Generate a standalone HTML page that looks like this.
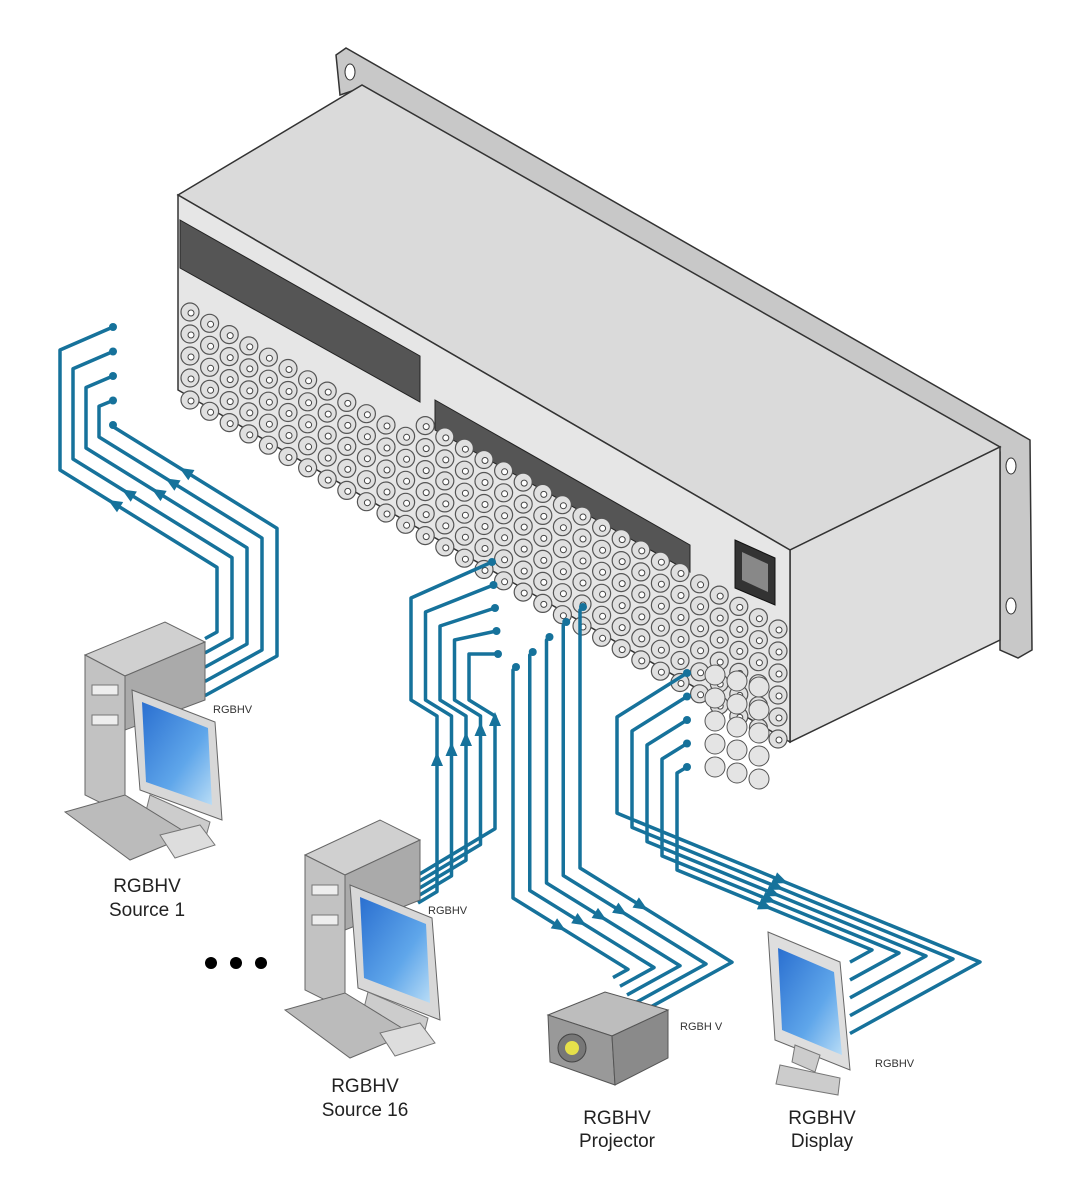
<!DOCTYPE html>
<html><head><meta charset="utf-8"><style>
html,body{margin:0;padding:0;background:#fff;}
svg{display:block;}
text{font-family:"Liberation Sans",sans-serif;}
</style></head><body>
<svg id="s" width="1083" height="1200" viewBox="0 0 1083 1200" xmlns="http://www.w3.org/2000/svg">
<defs>
<linearGradient id="scr" x1="0" y1="0" x2="1" y2="1"><stop offset="0" stop-color="#2a6fd0"/><stop offset="0.6" stop-color="#5fa6ea"/><stop offset="1" stop-color="#b8dcf6"/></linearGradient>
</defs>
<polygon points="336,55 346,48 1030,440 1032,650 1018,658 1000,650 1000,452 355,90 340,95" fill="#c8c8c8" stroke="#333" stroke-width="1.5"/>
<ellipse cx="350" cy="72" rx="5" ry="8" fill="#fff" stroke="#333"/>
<ellipse cx="1011" cy="466" rx="5" ry="8" fill="#fff" stroke="#333"/>
<ellipse cx="1011" cy="606" rx="5" ry="8" fill="#fff" stroke="#333"/>
<polygon points="178,195 362,85 1000,447 790,550" fill="#dadada" stroke="#333" stroke-width="1.5"/>
<polygon points="790,550 1000,447 1000,640 790,742" fill="#dedede" stroke="#333" stroke-width="1.5"/>
<polygon points="178,195 790,550 790,742 178,390" fill="#e6e6e6" stroke="#333" stroke-width="1.5"/>
<polygon points="180,220 420,356 420,402 180,268" fill="#555" stroke="#222"/>
<polygon points="435,400 690,545 690,572 435,430" fill="#555" stroke="#222"/>
<polygon points="735,540 775,558 775,605 735,588" fill="#333" stroke="#111"/>
<polygon points="742,552 768,564 768,592 742,580" fill="#888"/>
<g id="conn"></g>
<g id="cab" fill="none" stroke="#16729b" stroke-width="3.5" stroke-linejoin="round"></g>
<g id="arr" fill="#16729b"></g>

<polygon points="85,655 165,622 205,642 125,676" fill="#d0d0d0" stroke="#666"/>
<polygon points="85,655 125,676 125,815 85,795" fill="#c2c2c2" stroke="#666"/>
<polygon points="125,676 205,642 205,700 125,730" fill="#aaa" stroke="#666"/>
<rect x="92" y="685" width="26" height="10" fill="#eee" stroke="#777"/>
<rect x="92" y="715" width="26" height="10" fill="#eee" stroke="#777"/>
<polygon points="132,690 215,722 222,820 140,790" fill="#d8d8d8" stroke="#666"/>
<polygon points="142,702 208,728 212,805 146,782" fill="url(#scr)"/>
<polygon points="150,795 210,822 205,840 145,815" fill="#ccc" stroke="#777"/>
<polygon points="65,812 125,795 190,835 130,860" fill="#bbb" stroke="#666"/>
<polygon points="160,835 200,825 215,845 175,858" fill="#ddd" stroke="#777"/>
<text x="213" y="713" font-size="11" fill="#333">RGBHV</text>
<text x="147" y="892" font-size="19" fill="#222" text-anchor="middle">RGBHV</text>
<text x="147" y="916" font-size="19" fill="#222" text-anchor="middle">Source 1</text>

<circle cx="211" cy="963" r="6" fill="#000"/><circle cx="236" cy="963" r="6" fill="#000"/><circle cx="261" cy="963" r="6" fill="#000"/>

<polygon points="305,855 380,820 420,840 345,875" fill="#d0d0d0" stroke="#666"/>
<polygon points="305,855 345,875 345,1010 305,990" fill="#c2c2c2" stroke="#666"/>
<polygon points="345,875 420,840 420,900 345,930" fill="#aaa" stroke="#666"/>
<rect x="312" y="885" width="26" height="10" fill="#eee" stroke="#777"/>
<rect x="312" y="915" width="26" height="10" fill="#eee" stroke="#777"/>
<polygon points="350,885 432,918 440,1020 358,988" fill="#d8d8d8" stroke="#666"/>
<polygon points="360,897 426,924 430,1003 364,978" fill="url(#scr)"/>
<polygon points="368,992 428,1018 423,1038 363,1012" fill="#ccc" stroke="#777"/>
<polygon points="285,1010 345,993 410,1033 350,1058" fill="#bbb" stroke="#666"/>
<polygon points="380,1033 420,1023 435,1043 395,1056" fill="#ddd" stroke="#777"/>
<text x="428" y="914" font-size="11" fill="#333">RGBHV</text>
<text x="365" y="1092" font-size="19" fill="#222" text-anchor="middle">RGBHV</text>
<text x="365" y="1116" font-size="19" fill="#222" text-anchor="middle">Source 16</text>

<polygon points="548,1015 605,992 668,1010 612,1036" fill="#bdbdbd" stroke="#555"/>
<polygon points="548,1015 612,1036 615,1085 550,1062" fill="#999" stroke="#555"/>
<polygon points="612,1036 668,1010 668,1058 615,1085" fill="#8a8a8a" stroke="#555"/>
<circle cx="572" cy="1048" r="14" fill="#777" stroke="#444"/>
<circle cx="572" cy="1048" r="7" fill="#e6e04a"/>
<text x="680" y="1030" font-size="11" fill="#333">RGBH V</text>
<text x="617" y="1124" font-size="19" fill="#222" text-anchor="middle">RGBHV</text>
<text x="617" y="1147" font-size="19" fill="#222" text-anchor="middle">Projector</text>

<polygon points="768,932 840,962 850,1070 775,1040" fill="#dedede" stroke="#666"/>
<polygon points="778,948 834,972 842,1055 782,1030" fill="url(#scr)"/>
<polygon points="795,1045 820,1055 815,1072 792,1062" fill="#ccc" stroke="#777"/>
<polygon points="780,1065 840,1078 838,1095 776,1084" fill="#ccc" stroke="#777"/>
<text x="875" y="1067" font-size="11" fill="#333">RGBHV</text>
<text x="822" y="1124" font-size="19" fill="#222" text-anchor="middle">RGBHV</text>
<text x="822" y="1147" font-size="19" fill="#222" text-anchor="middle">Display</text>
</svg>
<script>
(function(){
var NS="http://www.w3.org/2000/svg";
function el(p,t,a){var e=document.createElementNS(NS,t);for(var k in a)e.setAttribute(k,a[k]);document.getElementById(p).appendChild(e);return e;}
for(var c=0;c<31;c++){for(var r=0;r<6;r++){
 var x=190+c*19.6, y=290+c*11.3+r*22;
 if(c<12&&r==0)continue;
 if(x>780)continue;
 el("conn","circle",{cx:x,cy:y,r:9,fill:"#e0e0e0",stroke:"#555","stroke-width":1.2});
 el("conn","circle",{cx:x+1,cy:y+1,r:3,fill:"#fff",stroke:"#444","stroke-width":1});
}}
for(var r=0;r<5;r++){for(var k=0;k<3;k++){el("conn","circle",{cx:715+k*22,cy:675+r*23+k*6,r:10,fill:"#e4e4e4",stroke:"#555"});}}
function line(pts){el("cab","polyline",{points:pts.map(function(p){return p[0]+","+p[1]}).join(" ")});}
function arrow(x,y,ang){el("arr","polygon",{points:"8,0 -6,-6 -6,6",transform:"translate("+x+","+y+") rotate("+ang+")"});}
var i;
for(i=0;i<5;i++){
 var C=[113,327+24.5*i],P1=[60+13*i,350+18.75*i],P2=[60+13*i,470-11*i];
 var cx=217+15*i,P3=[cx,P2[1]+0.62*(cx-P2[0])],P4=[cx,632+6*i],P5=[205,P4[1]+0.55*(cx-205)];
 line([C,P1,P2,P3,P4,P5]);
 el("conn","circle",{cx:C[0],cy:C[1],r:4,fill:"#16729b"});
 var t=i<2?0.35:0.45;arrow(P2[0]+(P3[0]-P2[0])*t,P2[1]+(P3[1]-P2[1])*t,211);
}
for(i=0;i<5;i++){
 var C=[492+1.5*i,562+23*i],x1=411+14.5*i,P1=[x1,598+14*i],P2=[x1,700],x2=437+14.5*i,P3=[x2,716],
 P5=[418,903-7*i],P4=[x2,P5[1]-0.6*(x2-418)];
 line([C,P1,P2,P3,P4,P5]);
 el("conn","circle",{cx:C[0],cy:C[1],r:4,fill:"#16729b"});
 arrow(x2,760-10*i,-90);
}
for(i=0;i<5;i++){
 var px=513+16.75*i,ptop=670-15*i,turn=898-7.5*i,qx=628+26*i,qy=turn+0.62*(qx-px),dx=15+19*i;
 line([[px+3,ptop-3],[px,ptop],[px,turn],[qx,qy],[qx-dx,qy+0.55*dx]]);
 el("conn","circle",{cx:px+3,cy:ptop-3,r:4,fill:"#16729b"});
 arrow(px+(qx-px)*0.4,turn+(qy-turn)*0.4,32);
}
for(i=0;i<5;i++){
 var C=[687,673+23.5*i],dxx=617+15*i,P1=[dxx,717+14*i],kx=980-27*i,ky=962-3*i,P2y=ky-0.41*(kx-dxx);
 if(P2y<P1[1])P2y=P1[1];
 var ey=ky+0.55*(kx-850);
 line([C,P1,[dxx,P2y],[kx,ky],[850,ey]]);
 el("conn","circle",{cx:C[0],cy:C[1],r:4,fill:"#16729b"});
 arrow(dxx+(kx-dxx)*0.45,P2y+(ky-P2y)*0.45,22);
}
})();
</script>
</body></html>
